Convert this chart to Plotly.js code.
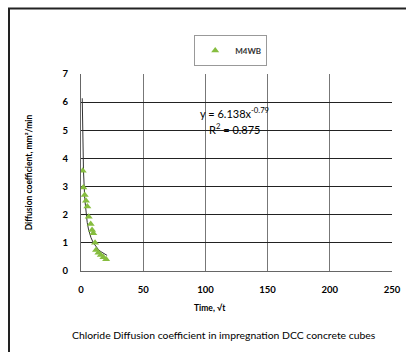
<!DOCTYPE html>
<html><head><meta charset="utf-8">
<script src="https://cdn.plot.ly/plotly-3.0.1.min.js"></script>
<style>html,body{margin:0;padding:0;background:#fff}#chart{width:406px;height:352px}</style>
</head><body><div id="chart"></div>
<script>
var seriesName = 'M4WB';
var timeSqrt = [1.4, 1.9, 3.0, 4.0, 5.1, 6.2, 7.8, 8.9, 9.9, 11.3, 12.1, 14.0, 15.9, 18.0, 20.2];
var diffCoef = [3.56, 2.97, 2.70, 2.50, 2.29, 1.93, 1.67, 1.46, 1.34, 1.00, 0.75, 0.65, 0.57, 0.49, 0.42];
var fitA = 6.138, fitB = -0.79;
var fitX = [1, 1.5, 2, 3, 4, 5, 6, 8, 10, 12, 14, 16, 18, 20, 21];
var fitY = fitX.map(function(x){ return fitA * Math.pow(x, fitB); });
var xTicks = [0, 50, 100, 150, 200, 250];
var yTicks = [0, 1, 2, 3, 4, 5, 6, 7];

var font = 'Lato, "Open Sans", sans-serif';
var traces = [
  {x: fitX, y: fitY, mode: 'lines', line: {color: '#333', width: 1}, showlegend: false, hoverinfo: 'skip'},
  {x: timeSqrt, y: diffCoef, mode: 'markers', name: seriesName,
   marker: {symbol: 'triangle-up', size: 7, color: '#86bd3f'}}
];
var layout = {
  width: 406, height: 352,
  margin: {l: 81, r: 14, t: 74, b: 81},
  paper_bgcolor: '#fff', plot_bgcolor: '#fff',
  font: {family: font, color: '#000', size: 10},
  showlegend: true,
  legend: {x: 0.364, y: 1.198, xanchor: 'left', yanchor: 'top', bordercolor: '#999', borderwidth: 1,
           bgcolor: '#fff', font: {size: 8, family: font, weight: 'bold', color: '#333'}, itemwidth: 30},
  xaxis: {range: [0, 250], tickvals: xTicks, ticktext: xTicks.map(String), showgrid: true, gridcolor: '#777', gridwidth: 1,
          zeroline: false, showline: true, linecolor: '#666', linewidth: 1, ticks: '', ticklabelstandoff: 10,
          tickfont: {size: 9.5, family: font, weight: 'bold'}},
  yaxis: {range: [0, 7], tickvals: yTicks, ticktext: yTicks.map(String), showgrid: true, gridcolor: '#222', gridwidth: 1,
          zeroline: false, showline: true, linecolor: '#666', linewidth: 1, ticks: '', ticklabelstandoff: 10,
          tickfont: {size: 9.5, family: font, weight: 'bold'},
          title: {text: 'Diffusion coefficient, mm²/min', font: {size: 8.5, family: font, weight: 'bold'}, standoff: 28}},
  annotations: [
    {xref: 'paper', yref: 'paper', x: 0.415, y: -0.188, xanchor: 'center', yanchor: 'middle', showarrow: false,
     text: 'Time, √t', font: {size: 8.5, family: font, weight: 'bold'}},
    {xref: 'paper', yref: 'paper', x: 0.376, y: 0.805, xanchor: 'left', yanchor: 'middle', showarrow: false,
     text: 'y = 6.138x<sup>-0.79</sup>', font: {size: 11, family: font}},
    {xref: 'paper', yref: 'paper', x: 0.404, y: 0.724, xanchor: 'left', yanchor: 'middle', showarrow: false,
     text: 'R<sup>2</sup> = 0.875', font: {size: 11, family: font}},
    {xref: 'paper', yref: 'paper', x: 0.46, y: -0.325, xanchor: 'center', yanchor: 'middle', showarrow: false,
     text: 'Chloride Diffusion coefficient in impregnation DCC concrete cubes', font: {size: 10.4, family: font}}
  ],
  shapes: [
    {type: 'rect', xref: 'paper', yref: 'paper', x0: -0.2315, x1: 1.2, y0: -0.6, y1: 1.333,
     line: {color: '#222', width: 2}, fillcolor: 'rgba(0,0,0,0)', layer: 'below'}
  ]
};
Plotly.newPlot('chart', traces, layout, {displayModeBar: false, staticPlot: true});
</script></body></html>
